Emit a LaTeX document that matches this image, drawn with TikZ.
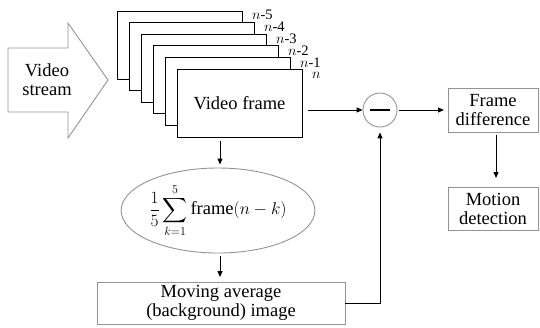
\documentclass[tikz,border=0pt]{standalone}
\usepackage{amsmath}
\usepackage{fontspec}
\setmainfont{Liberation Serif}
\usetikzlibrary{arrows.meta, positioning, calc, shapes.geometric}

\begin{document}
\begin{tikzpicture}[x=1pt, y=-1pt,
    every node/.style={font=\fontsize{18.5}{19}\selectfont},
    box/.style={rectangle, draw=gray!85, line width=0.9pt, inner sep=0pt, outer sep=0pt, align=center},
    framebox/.style={rectangle, draw, fill=white, line width=0.8pt, minimum width=125pt, minimum height=68pt, inner sep=0pt, outer sep=0pt, anchor=north west},
    numlabel/.style={anchor=west, inner sep=0pt, font=\fontsize{14.5}{15}\selectfont},
    arrow/.style={-{Triangle[length=6pt,width=5pt]}, line width=1pt}
]
    \useasboundingbox (0,0) rectangle (540,327);

    % Input stream
    \draw[gray!85, line width=0.9pt, fill=white] (8,48) -- (68,48) -- (68,23) -- (108,80)
        -- (68,138) -- (68,112) -- (8,112) -- cycle;
    \node[align=center] (stream) at (47,80) {Video\\stream};

    % Stack of frames
    \foreach \i/\lab in {0/{$n$-5}, 1/{$n$-4}, 2/{$n$-3}, 3/{$n$-2}, 4/{$n$-1}, 5/{$n$}} {
        \node[framebox] (frame\i) at (117+12*\i, 11+11.6*\i) {};
        \node[numlabel] (lab\i) at ($(frame\i.north east)+(10,3.5+0.5*\i)$) {\lab};
    }
    \node (vframe) at (frame5.center) {Video frame};

    % Averaging
    \node[ellipse, draw=gray!85, line width=0.9pt, minimum width=185pt, minimum height=85pt, inner sep=0pt] (mean) at (218,210.5)
        {$\displaystyle\frac{1}{5}\sum_{k=1}^{5}\mathrm{frame}(n-k)$};
    \node[box, minimum width=248pt, minimum height=42pt] (avg) at (221,303) {Moving average\\(background) image};

    % Subtraction
    \node[circle, draw=gray!85, line width=0.9pt, minimum size=34pt, inner sep=0pt] (minus) at (380,110) {};
    \draw[line width=2.8pt] ($(minus.center)+(-10,0)$) -- ($(minus.center)+(10,0)$);

    % Output
    \node[box, minimum width=90pt, minimum height=44pt] (diff) at (493,110) {Frame\\difference};
    \node[box, minimum width=90pt, minimum height=43pt] (motion) at (493,208.5) {Motion\\detection};

    % Arrows
    \coordinate (col) at (220,0);
    \draw[arrow] ($(frame5.south -| col)+(0,4)$) -- ($(mean.north -| col)+(0,-3)$);
    \draw[arrow] ($(mean.south -| col)+(0,3)$) -- ($(avg.north -| col)+(0,-5)$);
    \draw[arrow] ($(frame5.east |- minus)+(6,0)$) -- (minus.west);
    \draw[arrow] ($(minus.east)+(2,0)$) -- ($(diff.west)+(-4,0)$);
    \draw[arrow] ($(diff.south)+(3,3)$) -- ($(motion.north)+(3,-9)$);
    \draw[arrow, shorten >=5pt] (avg.east) -| (minus.south);

\end{tikzpicture}
\end{document}
